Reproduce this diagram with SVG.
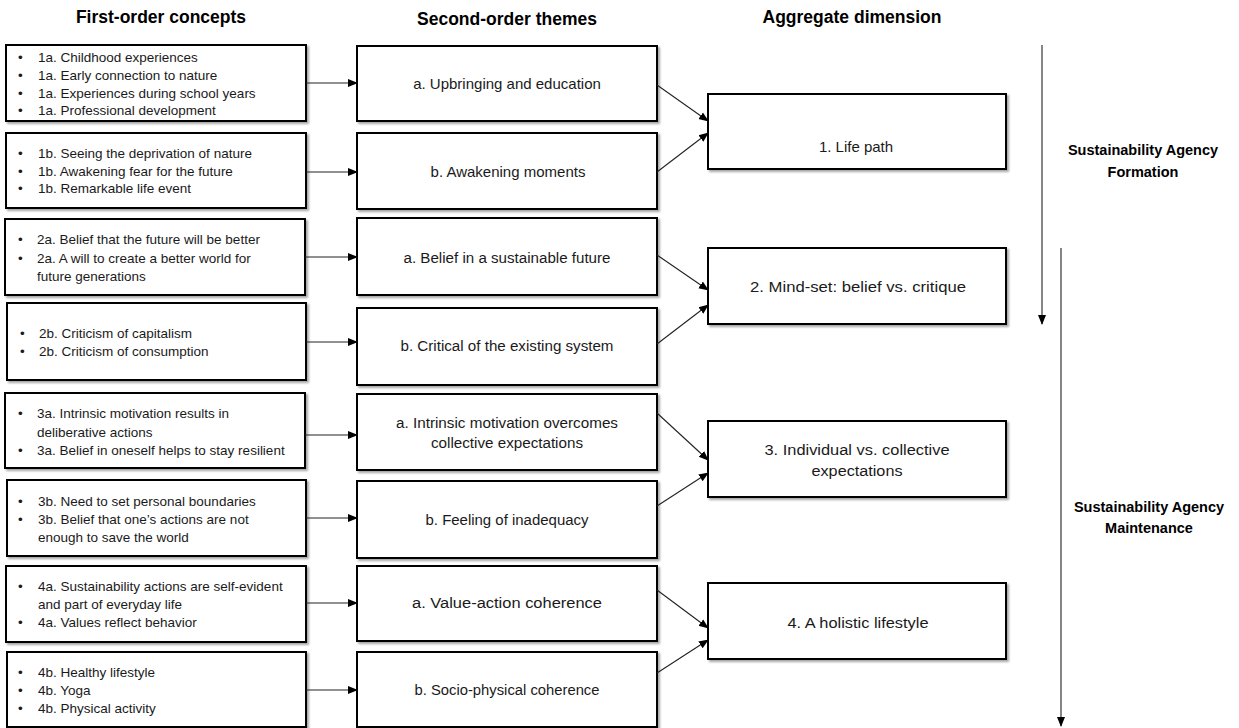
<svg xmlns="http://www.w3.org/2000/svg" width="1239" height="728" viewBox="0 0 1239 728">
<style>
.box{fill:#fff;stroke:#000;stroke-width:2;filter:url(#sh)}
.hd{font-family:"Liberation Sans",Arial,sans-serif;font-weight:bold;font-size:17.5px;fill:#000;text-anchor:middle}
.side{font-family:"Liberation Sans",Arial,sans-serif;font-weight:bold;font-size:14.5px;fill:#000;text-anchor:middle}
.li{font-family:"Liberation Sans",Arial,sans-serif;font-size:13.5px;fill:#1a1a1a}
.mid{font-family:"Liberation Sans",Arial,sans-serif;font-size:15px;fill:#1a1a1a;text-anchor:middle}
.nar{font-family:"Liberation Sans",Arial,sans-serif;font-size:15.5px;fill:#1a1a1a;text-anchor:middle}
.con{stroke:#222;stroke-width:1.1;fill:none;marker-end:url(#ah)}
</style>
<defs>
<filter id="sh" x="-5%" y="-10%" width="115%" height="130%">
<feDropShadow dx="2" dy="2" stdDeviation="1.2" flood-color="#000" flood-opacity="0.35"/>
</filter>
<marker id="ah" markerUnits="userSpaceOnUse" markerWidth="10" markerHeight="10" viewBox="0 0 10 10" refX="9" refY="5" orient="auto">
<path d="M0,1 L10,5 L0,9 Z" fill="#000"/>
</marker>
</defs>

<g id="headers">
<text class="hd" x="161" y="23">First-order concepts</text>
<text class="hd" x="507" y="25">Second-order themes</text>
<text class="hd" x="852" y="23">Aggregate dimension</text>
</g>

<g id="c1a"><rect class="box" x="6" y="45" width="300" height="76"/>
<text class="li"><tspan x="18" y="62">•</tspan><tspan x="38" y="62">1a. Childhood experiences</tspan><tspan x="18" y="80">•</tspan><tspan x="38" y="80">1a. Early connection to nature</tspan><tspan x="18" y="98">•</tspan><tspan x="38" y="98">1a. Experiences during school years</tspan><tspan x="18" y="115">•</tspan><tspan x="38" y="115">1a. Professional development</tspan></text></g>
<g id="c1b"><rect class="box" x="6" y="133" width="300" height="75"/>
<text class="li"><tspan x="18" y="158">•</tspan><tspan x="38" y="158">1b. Seeing the deprivation of nature</tspan><tspan x="18" y="176">•</tspan><tspan x="38" y="176">1b. Awakening fear for the future</tspan><tspan x="18" y="193">•</tspan><tspan x="38" y="193">1b. Remarkable life event</tspan></text></g>
<g id="c2a"><rect class="box" x="5" y="219" width="300" height="76"/>
<text class="li"><tspan x="18" y="244">•</tspan><tspan x="37" y="244">2a. Belief that the future will be better</tspan><tspan x="18" y="263">•</tspan><tspan x="37" y="263">2a. A will to create a better world for</tspan><tspan x="37" y="281">future generations</tspan></text></g>
<g id="c2b"><rect class="box" x="7" y="303" width="299" height="77"/>
<text class="li"><tspan x="20" y="338">•</tspan><tspan x="39" y="338">2b. Criticism of capitalism</tspan><tspan x="20" y="356">•</tspan><tspan x="39" y="356">2b. Criticism of consumption</tspan></text></g>
<g id="c3a"><rect class="box" x="5" y="393" width="300" height="75"/>
<text class="li"><tspan x="18" y="418">•</tspan><tspan x="37" y="418">3a. Intrinsic motivation results in</tspan><tspan x="37" y="437">deliberative actions</tspan><tspan x="18" y="455">•</tspan><tspan x="37" y="455">3a. Belief in oneself helps to stay resilient</tspan></text></g>
<g id="c3b"><rect class="box" x="7" y="480" width="299" height="76"/>
<text class="li"><tspan x="18" y="506">•</tspan><tspan x="38" y="506">3b. Need to set personal boundaries</tspan><tspan x="18" y="524">•</tspan><tspan x="38" y="524">3b. Belief that one’s actions are not</tspan><tspan x="38" y="542">enough to save the world</tspan></text></g>
<g id="c4a"><rect class="box" x="6" y="566" width="300" height="76"/>
<text class="li"><tspan x="18" y="591">•</tspan><tspan x="38" y="591">4a. Sustainability actions are self-evident</tspan><tspan x="38" y="609">and part of everyday life</tspan><tspan x="18" y="627">•</tspan><tspan x="38" y="627">4a. Values reflect behavior</tspan></text></g>
<g id="c4b"><rect class="box" x="7" y="652" width="299" height="75"/>
<text class="li"><tspan x="18" y="677">•</tspan><tspan x="38" y="677">4b. Healthy lifestyle</tspan><tspan x="18" y="695">•</tspan><tspan x="38" y="695">4b. Yoga</tspan><tspan x="18" y="713">•</tspan><tspan x="38" y="713">4b. Physical activity</tspan></text></g>

<g id="t1a"><rect class="box" x="357" y="46" width="300" height="75"/><text class="mid" x="507" y="89">a. Upbringing and education</text></g>
<g id="t1b"><rect class="box" x="357" y="133" width="300" height="76"/><text class="mid" x="508" y="177">b. Awakening moments</text></g>
<g id="t2a"><rect class="box" x="357" y="218" width="300" height="77"/><text class="nar" x="507" y="263" textLength="207" lengthAdjust="spacingAndGlyphs">a. Belief in a sustainable future</text></g>
<g id="t2b"><rect class="box" x="357" y="308" width="300" height="77"/><text class="nar" x="507" y="351" textLength="213" lengthAdjust="spacingAndGlyphs">b. Critical of the existing system</text></g>
<g id="t3a"><rect class="box" x="357" y="394" width="300" height="76"/><text class="nar" x="507" y="428" textLength="222" lengthAdjust="spacingAndGlyphs">a. Intrinsic motivation overcomes</text><text class="nar" x="507" y="448" textLength="152" lengthAdjust="spacingAndGlyphs">collective expectations</text></g>
<g id="t3b"><rect class="box" x="357" y="481" width="300" height="77"/><text class="nar" x="507" y="525" textLength="163" lengthAdjust="spacingAndGlyphs">b. Feeling of inadequacy</text></g>
<g id="t4a"><rect class="box" x="357" y="566" width="300" height="75"/><text class="nar" x="507" y="608" textLength="190" lengthAdjust="spacingAndGlyphs">a. Value-action coherence</text></g>
<g id="t4b"><rect class="box" x="357" y="652" width="300" height="75"/><text class="nar" x="507" y="695" textLength="185" lengthAdjust="spacingAndGlyphs">b. Socio-physical coherence</text></g>

<g id="d1"><rect class="box" x="708" y="94" width="298" height="75"/><text class="mid" x="856" y="152">1. Life path</text></g>
<g id="d2"><rect class="box" x="708" y="248" width="298" height="76"/><text class="nar" x="858" y="292" textLength="216" lengthAdjust="spacingAndGlyphs">2. Mind-set: belief vs. critique</text></g>
<g id="d3"><rect class="box" x="708" y="421" width="298" height="76"/><text class="nar" x="857" y="455" textLength="185" lengthAdjust="spacingAndGlyphs">3. Individual vs. collective</text><text class="nar" x="857" y="476" textLength="91" lengthAdjust="spacingAndGlyphs">expectations</text></g>
<g id="d4"><rect class="box" x="708" y="583" width="298" height="76"/><text class="nar" x="858" y="628" textLength="141" lengthAdjust="spacingAndGlyphs">4. A holistic lifestyle</text></g>

<g id="phases">
<text class="side" x="1143" y="155">Sustainability Agency</text>
<text class="side" x="1143" y="177">Formation</text>
<text class="side" x="1149" y="512">Sustainability Agency</text>
<text class="side" x="1149" y="533">Maintenance</text>
</g>

<g id="connectors">
<line class="con" x1="306" y1="83" x2="357" y2="83"/>
<line class="con" x1="306" y1="172" x2="357" y2="172"/>
<line class="con" x1="305" y1="257" x2="357" y2="257"/>
<line class="con" x1="306" y1="342" x2="357" y2="342"/>
<line class="con" x1="305" y1="435" x2="357" y2="435"/>
<line class="con" x1="306" y1="518" x2="357" y2="518"/>
<line class="con" x1="306" y1="603" x2="357" y2="603"/>
<line class="con" x1="306" y1="690" x2="357" y2="690"/>
<line class="con" x1="657" y1="85" x2="708" y2="121"/>
<line class="con" x1="657" y1="172" x2="708" y2="133"/>
<line class="con" x1="657" y1="255" x2="708" y2="290"/>
<line class="con" x1="657" y1="344" x2="708" y2="305"/>
<line class="con" x1="657" y1="413" x2="708" y2="460"/>
<line class="con" x1="657" y1="506" x2="708" y2="473"/>
<line class="con" x1="657" y1="590" x2="708" y2="628"/>
<line class="con" x1="657" y1="673" x2="708" y2="640"/>
<line class="con" x1="1042" y1="45" x2="1042" y2="324"/>
<line class="con" x1="1061" y1="248" x2="1061" y2="726"/>
</g>
</svg>
